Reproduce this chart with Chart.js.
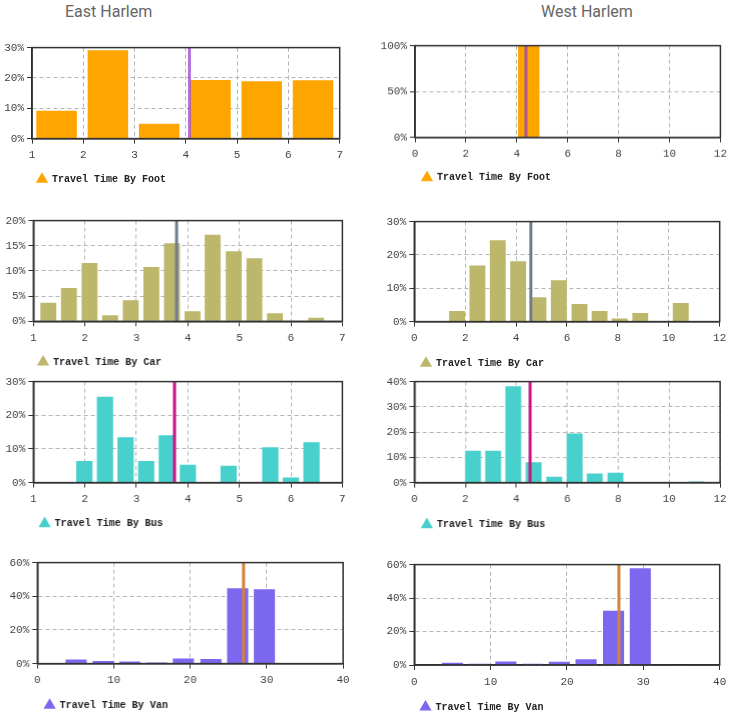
<!DOCTYPE html>
<html>
<head>
<meta charset="utf-8">
<title>Travel time, East and West Harlem</title>
<script src="https://cdn.jsdelivr.net/npm/chart.js@4.4.1/dist/chart.umd.min.js"></script>
<style>
    body { margin: 0; background: #fff; }
    #page { position: relative; width: 733px; height: 716px; overflow: hidden; }
    .title { position: absolute; top: 2px; font-family: Roboto, sans-serif; font-size: 16px; color: #666; }
    .cell { position: absolute; }
</style>
</head>
<body>
<div id="page">
    <div class="title" style="left:65px">East Harlem</div>
    <div class="title" style="left:541px">West Harlem</div>
    <div class="cell" id="east-foot"><canvas></canvas></div>
    <div class="cell" id="west-foot"><canvas></canvas></div>
    <div class="cell" id="east-car"><canvas></canvas></div>
    <div class="cell" id="west-car"><canvas></canvas></div>
    <div class="cell" id="east-bus"><canvas></canvas></div>
    <div class="cell" id="west-bus"><canvas></canvas></div>
    <div class="cell" id="east-van"><canvas></canvas></div>
    <div class="cell" id="west-van"><canvas></canvas></div>
</div>
<script>
// tick labels
const eastXTicks = [1, 2, 3, 4, 5, 6, 7];
const westXTicks = [0, 2, 4, 6, 8, 10, 12];
const vanXTicks = [0, 10, 20, 30, 40];
const eastFootYTicks = [0, 10, 20, 30];
const westFootYTicks = [0, 50, 100];
const eastCarYTicks = [0, 5, 10, 15, 20];
const westCarYTicks = [0, 10, 20, 30];
const eastBusYTicks = [0, 10, 20, 30];
const westBusYTicks = [0, 10, 20, 30, 40];
const vanYTicks = [0, 20, 40, 60];

// histogram bins (hours) and share of trips (%)
const eastFootBins = [1.48, 2.48, 3.48, 4.48, 5.48, 6.48];
const eastFootPct = [9.2, 29.1, 4.9, 19.3, 18.9, 19.2];
const eastFootMean = 4.07;

const westFootBins = [4.47];
const westFootPct = [100];
const westFootMean = 4.36;

const eastCarBins = [1.29, 1.69, 2.09, 2.49, 2.89, 3.29, 3.69, 4.09, 4.48, 4.89, 5.29, 5.69, 6.49];
const eastCarPct = [3.7, 6.6, 11.6, 1.2, 4.2, 10.8, 15.5, 2.0, 17.2, 13.9, 12.5, 1.6, 0.7];
const eastCarMean = 3.78;

const westCarBins = [1.68, 2.48, 3.28, 4.08, 4.88, 5.68, 6.49, 7.28, 8.07, 8.88, 10.47];
const westCarPct = [3.2, 16.8, 24.4, 18.1, 7.3, 12.4, 5.3, 3.2, 0.9, 2.6, 5.6];
const westCarMean = 4.58;

const eastBusBins = [1.99, 2.39, 2.79, 3.19, 3.59, 4.0, 4.79, 5.6, 6.0, 6.4];
const eastBusPct = [6.4, 25.5, 13.5, 6.4, 14.1, 5.3, 5.0, 10.5, 1.5, 12.0];
const eastBusMean = 3.74;

const westBusBins = [2.30, 3.09, 3.88, 4.68, 5.49, 6.29, 7.08, 7.89, 11.08];
const westBusPct = [12.6, 12.6, 38.2, 8.1, 2.3, 19.4, 3.6, 3.9, 0.4];
const westBusMean = 4.54;

const eastVanBins = [5.07, 8.6, 12.1, 15.6, 19.1, 22.7, 26.2, 29.7];
const eastVanPct = [2.5, 1.6, 1.2, 0.6, 3.1, 2.7, 44.8, 44.2];
const eastVanMean = 26.97;

const westVanBins = [5.0, 8.5, 12.0, 15.5, 19.0, 22.5, 26.1, 29.6];
const westVanPct = [1.3, 0.8, 2.1, 0.8, 1.9, 3.5, 32.4, 57.8];
const westVanMean = 26.8;

const tickFont = { family: '"Liberation Mono", monospace', size: 11 };
const legendFont = { family: '"Liberation Mono", monospace', size: 10, weight: 'bold' };

// box around the plot area
const frame = {
    id: 'frame',
    afterDatasetsDraw(chart) {
        const a = chart.chartArea;
        const ctx = chart.ctx;
        ctx.save();
        ctx.strokeStyle = '#333';
        ctx.lineWidth = 1.5;
        ctx.strokeRect(a.left, a.top, a.right - a.left, a.bottom - a.top);
        ctx.restore();
    }
};

function drawHist(id, o) {
    const fs = legendFont.size;
    const pad = o.lx - fs / 2 - o.left; // legend inset from plot's left edge
    const cl = o.left > 360 ? 370 : 0;
    const cell = document.getElementById(id);
    cell.style.left = cl + 'px';
    cell.style.top = (o.top - 8) + 'px';
    cell.style.width = (o.right + 8 - cl) + 'px';
    cell.style.height = (o.ly + fs / 2 + 10 - o.top + 8) + 'px';

    const yMax = o.yTicks[o.yTicks.length - 1];
    const grid = {
        color: '#b4b4b4',
        tickColor: '#333',
        tickLength: 5,
        lineWidth: 1
    };

    new Chart(cell.querySelector('canvas'), {
        type: 'bar',
        data: {
            datasets: [
                {
                    label: o.label,
                    data: o.bins.map((b, i) => ({ x: b, y: o.values[i] })),
                    backgroundColor: o.color,
                    borderWidth: 0,
                    barPercentage: o.barPct || 0.79,
                    categoryPercentage: 1,
                    order: 2
                },
                {
                    type: 'line',
                    label: 'mean',
                    data: [{ x: o.mean, y: 0 }, { x: o.mean, y: yMax }],
                    borderColor: o.meanColor,
                    borderWidth: 3,
                    pointRadius: 0,
                    order: 1
                }
            ]
        },
        options: {
            responsive: true,
            maintainAspectRatio: false,
            animation: false,
            layout: { padding: { top: 8, right: 8, left: 0, bottom: 0 } },
            scales: {
                x: {
                    type: 'linear',
                    min: o.xTicks[0],
                    max: o.xTicks[o.xTicks.length - 1],
                    offset: false,
                    grid: Object.assign({ offset: false }, grid),
                    border: { display: true, color: '#222', width: 1.5, dash: [4, 3] },
                    ticks: { font: tickFont, color: '#444', padding: 5, maxRotation: 0 },
                    afterBuildTicks: s => { s.ticks = o.xTicks.map(v => ({ value: v })); },
                    afterFit: s => { s.height = o.ly - o.bottom - fs / 2 - pad; }
                },
                y: {
                    min: 0,
                    max: yMax,
                    grid: grid,
                    border: { display: true, color: '#222', width: 1.5, dash: [4, 3] },
                    ticks: { font: tickFont, color: '#444', padding: 3, callback: v => v + '%' },
                    afterBuildTicks: s => { s.ticks = o.yTicks.map(v => ({ value: v })); },
                    afterFit: s => { s.width = o.left - cl; }
                }
            },
            plugins: {
                legend: {
                    position: 'bottom',
                    align: 'start',
                    fullSize: false,
                    labels: {
                        font: legendFont,
                        color: '#222',
                        usePointStyle: true,
                        pointStyle: 'triangle',
                        padding: pad,
                        filter: item => item.datasetIndex === 0
                    }
                },
                tooltip: { enabled: false }
            }
        },
        plugins: [frame]
    });
}

drawHist('east-foot', {
    label: 'Travel Time By Foot', bins: eastFootBins, values: eastFootPct, mean: eastFootMean,
    color: '#FFA500', meanColor: 'rgba(140,50,205,0.68)', xTicks: eastXTicks, yTicks: eastFootYTicks,
    left: 32, top: 45.7, right: 340, bottom: 138.3, lx: 42, ly: 179
});
drawHist('west-foot', {
    label: 'Travel Time By Foot', bins: westFootBins, values: westFootPct, mean: westFootMean,
    color: '#FFA500', meanColor: 'rgba(140,50,205,0.68)', xTicks: westXTicks, yTicks: westFootYTicks,
    barPct: 0.42,
    left: 415, top: 44, right: 724, bottom: 136.7, lx: 427, ly: 176.7
});
drawHist('east-car', {
    label: 'Travel Time By Car', bins: eastCarBins, values: eastCarPct, mean: eastCarMean,
    color: '#BDB76B', meanColor: '#6F7D8C', xTicks: eastXTicks, yTicks: eastCarYTicks,
    left: 33.3, top: 219, right: 341.7, bottom: 321.3, lx: 43, ly: 362
});
drawHist('west-car', {
    label: 'Travel Time By Car', bins: westCarBins, values: westCarPct, mean: westCarMean,
    color: '#BDB76B', meanColor: '#6F7D8C', xTicks: westXTicks, yTicks: westCarYTicks,
    left: 414.3, top: 219.7, right: 723.3, bottom: 321.3, lx: 426, ly: 363
});
drawHist('east-bus', {
    label: 'Travel Time By Bus', bins: eastBusBins, values: eastBusPct, mean: eastBusMean,
    color: '#48D1CC', meanColor: '#C71585', xTicks: eastXTicks, yTicks: eastBusYTicks,
    left: 33.3, top: 379.7, right: 341.7, bottom: 482.3, lx: 44.5, ly: 523.3
});
drawHist('west-bus', {
    label: 'Travel Time By Bus', bins: westBusBins, values: westBusPct, mean: westBusMean,
    color: '#48D1CC', meanColor: '#C71585', xTicks: westXTicks, yTicks: westBusYTicks,
    left: 414.3, top: 379.7, right: 722.7, bottom: 482.3, lx: 426.7, ly: 524.3
});
drawHist('east-van', {
    label: 'Travel Time By Van', bins: eastVanBins, values: eastVanPct, mean: eastVanMean,
    color: '#7B68EE', meanColor: '#D2853A', xTicks: vanXTicks, yTicks: vanYTicks,
    left: 37.3, top: 560.7, right: 345.7, bottom: 663.3, lx: 49.5, ly: 705
});
drawHist('west-van', {
    label: 'Travel Time By Van', bins: westVanBins, values: westVanPct, mean: westVanMean,
    color: '#7B68EE', meanColor: '#D2853A', xTicks: vanXTicks, yTicks: vanYTicks,
    left: 414.3, top: 562.7, right: 723.3, bottom: 664.7, lx: 425.5, ly: 706.7
});
</script>
</body>
</html>
